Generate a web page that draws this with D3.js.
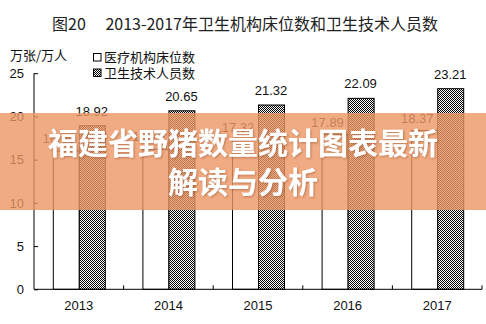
<!DOCTYPE html>
<html><head><meta charset="utf-8">
<script src="https://cdn.jsdelivr.net/npm/d3@7"></script>
<style>html,body{margin:0;padding:0;background:#fff;}svg{display:block;}</style>
</head><body>
<svg id="c" width="486" height="324"></svg>
<script>
const years = ["2013", "2014", "2015", "2016", "2017"];
const beds = [16.0, 16.2, 17.32, 17.89, 18.37];
const techStaff = [18.92, 20.65, 21.32, 22.09, 23.21];
const yTicks = [0, 5, 10, 15, 20, 25];
const seriesNames = ["医疗机构床位数", "卫生技术人员数"];
const titleText = "图20\u3000 2013-2017年卫生机构床位数和卫生技术人员数";
const unitText = "万张/万人";
const bannerLines = ["福建省野猪数量统计图表最新", "解读与分析"];

const svg = d3.select("#c");
const numFont = "'Liberation Sans', Arial, sans-serif";
const cjkFont = "'Noto Sans CJK SC', 'Noto Sans', sans-serif";

const defs = svg.append("defs");
const pat = defs.append("pattern").attr("id", "hatch").attr("patternUnits", "userSpaceOnUse")
  .attr("width", 2).attr("height", 2);
pat.append("rect").attr("width", 2).attr("height", 2).attr("fill", "#fff");
pat.append("rect").attr("x", 0).attr("y", 0).attr("width", 1).attr("height", 1).attr("fill", "#000");
pat.append("rect").attr("x", 1).attr("y", 1).attr("width", 1).attr("height", 1).attr("fill", "#000");
const flt = defs.append("filter").attr("id", "shadow").attr("x", "-10%").attr("y", "-30%")
  .attr("width", "120%").attr("height", "160%");
flt.append("feDropShadow").attr("dx", 1).attr("dy", 1).attr("stdDeviation", 1.2)
  .attr("flood-color", "#7a3a15").attr("flood-opacity", 0.45);

const x0 = 34, x1 = 482, yTop = 73.2, yBot = 289.3;
const x = d3.scaleBand().domain(years).range([x0, x1]).padding(0);
const y = d3.scaleLinear().domain([0, 25]).range([yBot, yTop]);
const barW = 26;
const xs = d3.scaleBand().domain(seriesNames).range([-barW, barW]).padding(0);

// title
svg.append("text").attr("x", 245).attr("y", 30).attr("text-anchor", "middle")
  .attr("font-family", cjkFont).attr("font-size", 16).attr("fill", "#222")
  .text(titleText);

// unit
svg.append("text").attr("x", 10).attr("y", 60).attr("font-family", cjkFont)
  .attr("font-size", 13).attr("fill", "#111").text(unitText);

// legend
const lg = svg.append("g");
seriesNames.forEach((s, i) => {
  const ly = 53.5 + i * 15.5;
  lg.append("rect").attr("x", 93.5).attr("y", ly).attr("width", 7.5).attr("height", 7.5)
    .attr("fill", i === 0 ? "#fff" : "url(#hatch)").attr("stroke", "#000").attr("stroke-width", 1);
  lg.append("text").attr("x", 104).attr("y", ly + 8.5).attr("font-family", cjkFont)
    .attr("font-size", 13).attr("fill", "#111").text(s);
});

// bars
const g = svg.append("g");
g.selectAll("rect.bed").data(years).join("rect").attr("class", "bed")
  .attr("x", d => x(d) + x.bandwidth() / 2 + xs(seriesNames[0]) + 0.5)
  .attr("y", (d, i) => y(beds[i]))
  .attr("width", xs.bandwidth()).attr("height", (d, i) => yBot - y(beds[i]))
  .attr("fill", "#fff").attr("stroke", "#000").attr("stroke-width", 1);
g.selectAll("rect.tech").data(years).join("rect").attr("class", "tech")
  .attr("x", d => x(d) + x.bandwidth() / 2 + xs(seriesNames[1]) + 0.5)
  .attr("y", (d, i) => y(techStaff[i]))
  .attr("width", xs.bandwidth()).attr("height", (d, i) => yBot - y(techStaff[i]))
  .attr("fill", "url(#hatch)").attr("stroke", "#000").attr("stroke-width", 1);

// value labels
g.selectAll("text.bedl").data(years).join("text").attr("class", "bedl")
  .attr("x", d => x(d) + x.bandwidth() / 2 + xs(seriesNames[0]) + xs.bandwidth() / 2 - 7)
  .attr("y", (d, i) => y(beds[i]) - 8)
  .attr("text-anchor", "middle").attr("font-family", numFont).attr("font-size", 13)
  .attr("fill", "#222").text((d, i) => beds[i].toFixed(2));
g.selectAll("text.techl").data(years).join("text").attr("class", "techl")
  .attr("x", d => x(d) + x.bandwidth() / 2 + xs(seriesNames[1]) + xs.bandwidth() / 2)
  .attr("y", (d, i) => y(techStaff[i]) - 10)
  .attr("text-anchor", "middle").attr("font-family", numFont).attr("font-size", 13)
  .attr("fill", "#111").text((d, i) => techStaff[i].toFixed(2));

// axes
const yAxis = d3.axisLeft(y).tickValues(yTicks).tickSize(-4).tickPadding(10).tickFormat(d3.format("d"));
const ya = svg.append("g").attr("transform", `translate(${x0},0)`).call(yAxis);
ya.selectAll("text").attr("font-family", numFont).attr("font-size", 13).attr("fill", "#111");
ya.select(".domain").attr("d", `M0,${yTop}V${yBot}`);

const xAxis = d3.axisBottom(x).tickSize(0).tickPadding(11);
const xa = svg.append("g").attr("transform", `translate(0,${yBot})`).call(xAxis);
xa.selectAll("text").attr("font-family", numFont).attr("font-size", 13).attr("fill", "#111");
xa.select(".domain").attr("d", `M${x0},0H${x1}`);
const bounds = years.map(d => x(d) + x.bandwidth());
xa.selectAll("line.sep").data(bounds).join("line").attr("class", "sep")
  .attr("x1", d => d).attr("x2", d => d).attr("y1", 0).attr("y2", -4)
  .attr("stroke", "#000");
svg.selectAll(".domain, .tick line").attr("stroke", "#000");

// overlay banner
svg.append("rect").attr("x", 0).attr("y", 113).attr("width", 486).attr("height", 97)
  .attr("fill", "rgb(236,150,100)").attr("opacity", 0.8);
const bt = svg.append("g").attr("filter", "url(#shadow)");
bannerLines.forEach((t, i) => {
  bt.append("text").attr("x", 243).attr("y", 154 + i * 39).attr("text-anchor", "middle")
    .attr("font-family", cjkFont).attr("font-weight", 700).attr("font-size", 30)
    .attr("fill", "#fff").text(t);
});
</script>
</body></html>
